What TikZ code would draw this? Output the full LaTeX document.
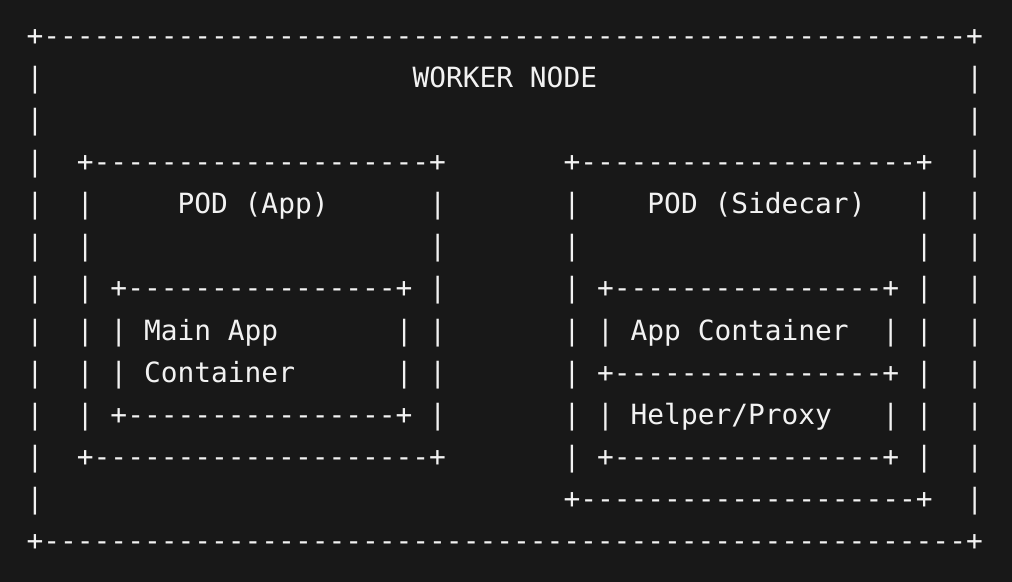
\documentclass[tikz,border=0pt]{standalone}
\usepackage{fontspec}
\setmonofont{DejaVu Sans Mono}
\definecolor{termbg}{HTML}{181818}
\definecolor{termfg}{HTML}{F2F2F2}

% one row of a box border: + --- +
\newcommand\asciiedge[3]{%
  \pgfmathtruncatemacro\ndash{#2-#1-1}%
  \node[ch] (edge-#1-#3) at (#1,#3) {+\foreach \k in {1,...,\ndash}{-}+};}
% the | on both sides of a box
\newcommand\asciisides[4]{%
  \foreach \r in {#3,...,#4} {
    \node[ch] (side-#1-\r) at (#1,\r) {|};
    \node[ch] (side-#2-\r) at (#2,\r) {|};}}

\begin{document}
\begin{tikzpicture}[x=12.585pt, y=-31.575pt,
		ch/.style={anchor=base west, inner sep=0pt, outer sep=0pt, text=termfg,
		  font=\ttfamily\fontsize{20.9pt}{25pt}\selectfont}]
		    \fill[termbg] (-1.585,-1.078) rectangle (58.725,12.746);
		    \useasboundingbox (-1.585,-1.078) rectangle (58.725,12.746);

		    % worker node
		    \asciiedge{0}{56}{0}
		    \asciiedge{0}{56}{12}
		    \asciisides{0}{56}{1}{11}
		    \node[ch] (worker) at (23,1) {WORKER NODE};

		    % pod (app)
		    \asciiedge{3}{24}{3}
		    \asciiedge{3}{24}{10}
		    \asciisides{3}{24}{4}{9}
		    \node[ch] (podapp) at (9,4) {POD (App)};
		    \asciiedge{5}{22}{6}
		    \asciiedge{5}{22}{9}
		    \asciisides{5}{22}{7}{8}
		    \node[ch] (mainapp) at (7,7) {Main App};
		    \node[ch] (maincont) at (7,8) {Container};

		    % pod (sidecar)
		    \asciiedge{32}{53}{3}
		    \asciiedge{32}{53}{11}
		    \asciisides{32}{53}{4}{10}
		    \node[ch] (podside) at (37,4) {POD (Sidecar)};
		    \foreach \r in {6,8,10} {
		       \asciiedge{34}{51}{\r}
		       }
		    \asciisides{34}{51}{7}{7}
		    \asciisides{34}{51}{9}{9}
		    \node[ch] (appcont) at (36,7) {App Container};
		    \node[ch] (helper) at (36,9) {Helper/Proxy};
		\end{tikzpicture}
\end{document}
